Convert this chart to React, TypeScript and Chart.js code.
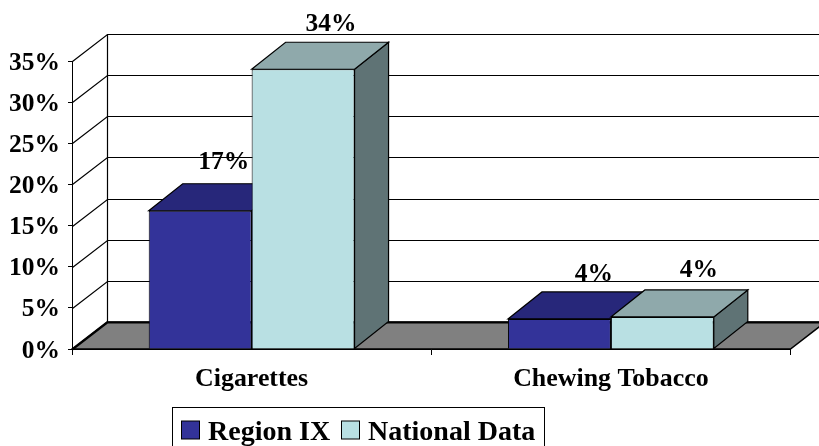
import React, { useEffect, useRef } from "react";
import { Chart, registerables } from "chart.js";

Chart.register(...registerables);

const categories = ["Cigarettes", "Chewing Tobacco"];
const regionIX = [16.8, 3.65];
const nationalData = [34, 3.9];
const regionLabels = ["17%", "4%"];
const nationalLabels = ["34%", "4%"];
const seriesNames = ["Region IX", "National Data"];
const tickValues = [0, 5, 10, 15, 20, 25, 30, 35];

const FONT = '"Liberation Serif", "Times New Roman", serif';
const DX = 35;
const DY = -27;
const BAR_DX = 34;
const BAR_DY = -27;

const shade3d = {
  id: "shade3d",
  beforeDraw(chart: any) {
    // nudge the value-axis labels down so the glyphs sit centred on their ticks
    const s = chart.scales.y;
    if (!s.__nudged) {
      const orig = s.drawLabels.bind(s);
      s.drawLabels = (area: any) => {
        chart.ctx.save();
        chart.ctx.translate(0, 2);
        orig(area);
        chart.ctx.restore();
      };
      s.__nudged = true;
    }
  },
  beforeDatasetsDraw(chart: any) {
    const { ctx, chartArea } = chart;
    const yScale = chart.scales.y;
    const { left, right, bottom } = chartArea;
    ctx.save();
    // floor
    ctx.beginPath();
    ctx.moveTo(left, bottom);
    ctx.lineTo(right, bottom);
    ctx.lineTo(right + DX, bottom + DY);
    ctx.lineTo(left + DX, bottom + DY);
    ctx.closePath();
    ctx.fillStyle = "#808080";
    ctx.fill();
    ctx.strokeStyle = "#000";
    ctx.lineWidth = 1.5;
    ctx.stroke();
    // wall grid
    tickValues.forEach((v) => {
      const y = Math.round(yScale.getPixelForValue(v)) + 0.5;
      ctx.beginPath();
      ctx.moveTo(left + 0.5, y);
      ctx.lineTo(left + DX + 0.5, y + DY);
      ctx.lineTo(right + DX, y + DY);
      ctx.lineWidth = v === 0 ? 2 : 1.2;
      ctx.stroke();
    });
    ctx.lineWidth = 1.2;
    const top = Math.round(yScale.getPixelForValue(35)) + 0.5;
    ctx.beginPath();
    ctx.moveTo(left + DX + 0.5, top + DY);
    ctx.lineTo(left + DX + 0.5, bottom + DY);
    ctx.stroke();
    // bar depth faces
    const faces = [
      { top: "#27277A", side: "#1F1F60" },
      { top: "#8FA9AB", side: "#5F7375" },
    ];
    chart.data.datasets.forEach((_: any, di: number) => {
      chart.getDatasetMeta(di).data.forEach((bar: any) => {
        const x0 = bar.x - bar.width / 2;
        const x1 = bar.x + bar.width / 2;
        const yt = bar.y;
        const yb = bar.base;
        ctx.lineJoin = "miter";
        ctx.lineWidth = 1.2;
        ctx.strokeStyle = "#000";
        ctx.fillStyle = faces[di].side;
        ctx.beginPath();
        ctx.moveTo(x1, yt);
        ctx.lineTo(x1 + BAR_DX, yt + BAR_DY);
        ctx.lineTo(x1 + BAR_DX, yb + BAR_DY);
        ctx.lineTo(x1, yb);
        ctx.closePath();
        ctx.fill();
        ctx.stroke();
        ctx.fillStyle = faces[di].top;
        ctx.beginPath();
        ctx.moveTo(x0, yt);
        ctx.lineTo(x0 + BAR_DX, yt + BAR_DY);
        ctx.lineTo(x1 + BAR_DX, yt + BAR_DY);
        ctx.lineTo(x1, yt);
        ctx.closePath();
        ctx.fill();
        ctx.stroke();
      });
    });
    ctx.restore();
  },
  afterDatasetsDraw(chart: any) {
    const { ctx } = chart;
    ctx.save();
    ctx.fillStyle = "#000";
    ctx.font = `bold 25.5px ${FONT}`;
    ctx.textAlign = "center";
    ctx.textBaseline = "alphabetic";
    const labelSets = [regionLabels, nationalLabels];
    const nudges = [
      [[23.5, -41.5], [34.5, -38]],
      [[28, -38], [36.5, -39.5]],
    ];
    labelSets.forEach((labels, di) => {
      chart.getDatasetMeta(di).data.forEach((bar: any, i: number) => {
        ctx.fillText(labels[i], bar.x + nudges[di][i][0], bar.y + nudges[di][i][1]);
      });
    });
    // legend (its lower edge runs off the bottom of the picture)
    const boxX = 172.5, boxY = 407.5, boxR = 544.5, boxB = 452;
    ctx.strokeStyle = "#000";
    ctx.lineWidth = 1;
    ctx.strokeRect(boxX, boxY, boxR - boxX, boxB - boxY);
    ctx.font = `bold 28px ${FONT}`;
    ctx.textAlign = "left";
    const swatches = [181.5, 341.5];
    seriesNames.forEach((name, i) => {
      const ds = chart.data.datasets[i];
      ctx.fillStyle = ds.backgroundColor;
      ctx.fillRect(swatches[i], 421, 18, 18);
      ctx.strokeRect(swatches[i], 421, 18, 18);
      ctx.fillStyle = "#000";
      ctx.fillText(name, swatches[i] + 26.5, 439.5);
    });
    ctx.restore();
  },
};

export default function App() {
  const ref = useRef<HTMLCanvasElement>(null);
  useEffect(() => {
    const chart = new Chart(ref.current!, {
      type: "bar",
      data: {
        labels: categories,
        datasets: [
          { label: seriesNames[0], data: regionIX, backgroundColor: "#333399", borderColor: "#000", borderWidth: 1 },
          { label: seriesNames[1], data: nationalData, backgroundColor: "#B9E0E3", borderColor: "#000", borderWidth: 1 },
        ],
      },
      options: {
        responsive: false,
        animation: false,
        layout: { padding: { left: 0, right: 28.5, top: 61, bottom: 0 } },
        plugins: { legend: { display: false }, tooltip: { enabled: false } },
        datasets: { bar: { categoryPercentage: 0.573, barPercentage: 1 } },
        scales: {
          x: {
            offset: true,
            afterFit: (s: any) => { s.height = 97; },
            grid: { offset: true, drawOnChartArea: false, tickLength: 6, color: "#000" },
            border: { color: "#000" },
            ticks: { color: "#000", padding: 9, maxRotation: 0, font: { family: FONT, size: 25.9, weight: "bold" } },
          },
          y: {
            min: 0,
            max: 35,
            afterFit: (s: any) => { s.width = 72; },
            grid: { drawOnChartArea: false, tickLength: 4, color: "#000" },
            border: { color: "#000" },
            ticks: {
              stepSize: 5,
              padding: 8,
              color: "#000",
              callback: (v: any) => `${v}%`,
              font: { family: FONT, size: 25.5, weight: "bold" },
            },
          },
        },
      } as any,
      plugins: [shade3d],
    });
    return () => chart.destroy();
  }, []);
  return (
    <div style={{ position: "absolute", left: 0, top: 0, width: 819, height: 446, background: "#fff" }}>
      <canvas ref={ref} width={819} height={446} style={{ display: "block" }} />
    </div>
  );
}
